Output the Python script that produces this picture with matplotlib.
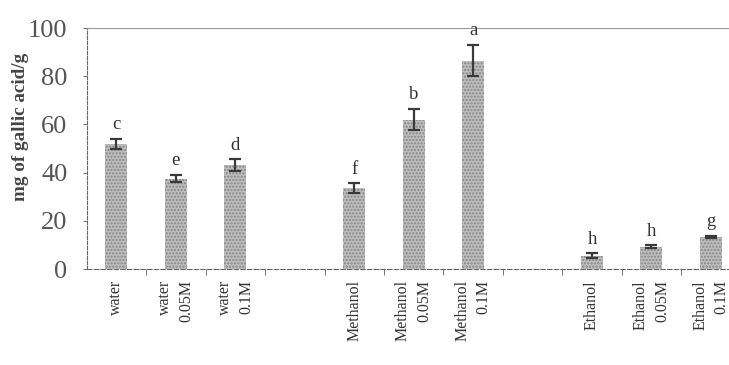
import matplotlib.pyplot as plt
import numpy as np

plt.rcParams['font.family'] = ['Liberation Serif', 'DejaVu Serif']

# slots along the x axis, empty strings are the gaps between solvent groups
labels = ["water", "water\n0.05M", "water\n0.1M", "",
          "Methanol", "Methanol\n0.05M", "Methanol\n0.1M", "",
          "Ethanol", "Ethanol\n0.05M", "Ethanol\n0.1M"]
values = [52, 37.5, 43, None, 33.5, 62, 86.5, None, 5.5, 9.3, 13.3]
errors = [2, 1.5, 2.5, None, 2, 4.5, 6.5, None, 1, 0.6, 0.5]
letters = ["c", "e", "d", "", "f", "b", "a", "", "h", "h", "g"]

fig = plt.figure(figsize=(7.29, 3.65), dpi=100)
ax = fig.add_axes([0.119, 0.263, 0.897, 0.66])

pos = [i for i, v in enumerate(values) if v is not None]
vals = [values[i] for i in pos]
errs = [errors[i] for i in pos]

ax.bar(pos, vals, width=0.37, color="#bdbdbd", hatch=".....",
       edgecolor="#858585", linewidth=0)
ax.errorbar(pos, vals, yerr=errs, fmt="none", ecolor="#3a3a3a",
            elinewidth=1.6, capsize=4.5, capthick=1.6)

for i in pos:
    ax.annotate(letters[i], (i, values[i] + errors[i]), xytext=(0, 4),
                textcoords="offset points", ha="center", va="bottom",
                fontsize=13.5, color="#333333")

ax.set_xlim(-0.5, 10.5)
ax.set_ylim(0, 100)
ax.set_yticks(np.arange(0, 101, 20))
ax.tick_params(axis="y", direction="out", length=3, width=0.8, color="#777777",
               labelsize=19, labelcolor="#555555", pad=11)

ax.set_xticks(range(len(labels)))
ax.set_xticklabels(labels, rotation=90, fontsize=11.5, color="#333333",
                   va="top", ha="center", multialignment="right",
                   linespacing=1.45)
ax.tick_params(axis="x", which="major", length=0, pad=8)
ax.set_xticks(np.arange(0.5, 10.5, 1), minor=True)
ax.tick_params(axis="x", which="minor", direction="out", length=4,
               width=0.7, color="#777777")

fig.text(21 / 729, 1 - 127 / 365, "mg of gallic acid/g", rotation=90,
         ha="center", va="center", fontsize=13.8, fontweight="bold",
         color="#444444")

ax.spines["left"].set_linestyle((0, (3, 1.5)))
ax.spines["left"].set_color("#666666")
ax.spines["bottom"].set_linestyle((0, (4, 2)))
ax.spines["bottom"].set_color("#666666")
ax.spines["top"].set_linestyle((0, (1, 1)))
ax.spines["top"].set_color("#999999")
ax.spines["right"].set_visible(False)

plt.savefig("out.png", dpi=100)
